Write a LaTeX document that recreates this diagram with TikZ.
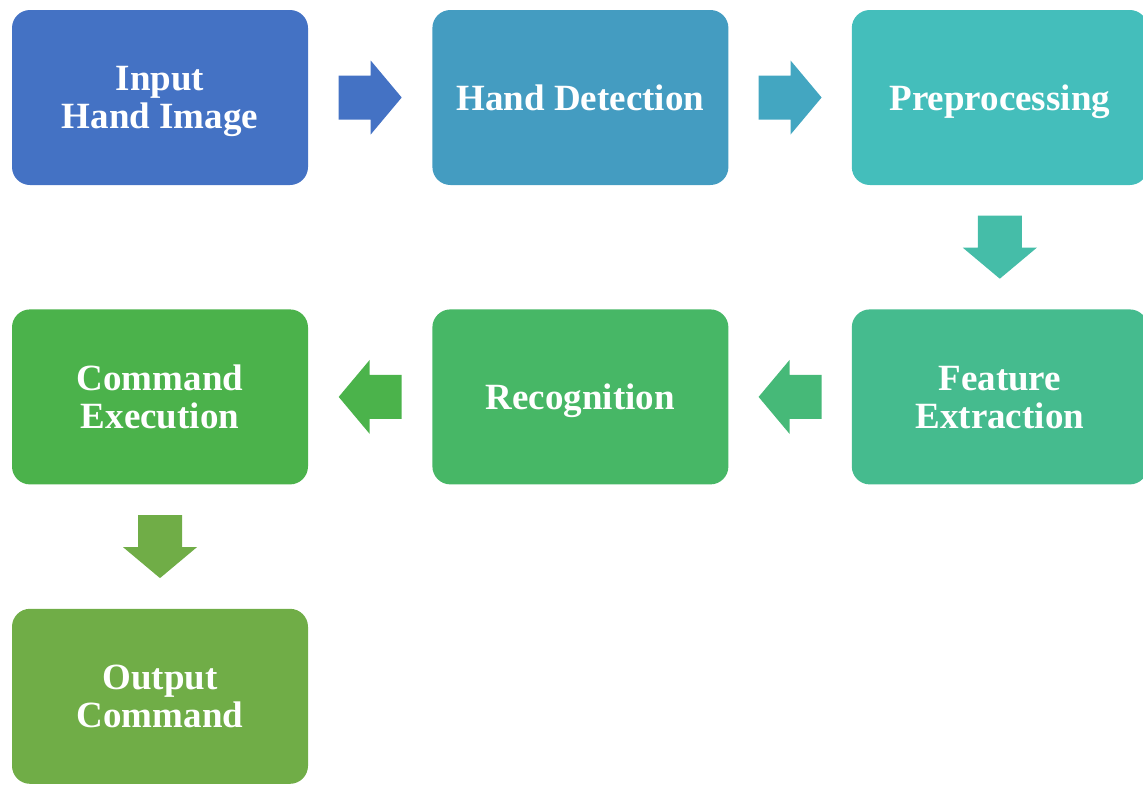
\documentclass[tikz,border=0pt]{standalone}
\usepackage{fontspec}
\setmainfont{Liberation Serif}
\usepackage{tikz}
\usetikzlibrary{calc,positioning}

\definecolor{boxA}{HTML}{4472C4}
\definecolor{boxB}{HTML}{449CC1}
\definecolor{boxC}{HTML}{44BEBB}
\definecolor{boxD}{HTML}{45BB8E}
\definecolor{boxE}{HTML}{47B766}
\definecolor{boxF}{HTML}{4BB24B}
\definecolor{boxG}{HTML}{70AD47}
\definecolor{arrA}{HTML}{4472C4}
\definecolor{arrB}{HTML}{43A6C1}
\definecolor{arrC}{HTML}{45BDA8}
\definecolor{arrD}{HTML}{46B978}
\definecolor{arrE}{HTML}{4BB34B}
\definecolor{arrF}{HTML}{70AD47}

\begin{document}
\begin{tikzpicture}[x=1pt, y=-1pt,
		stage/.style = {rectangle, rounded corners=18pt, inner sep=0pt,
				minimum width=296pt, minimum height=175pt, align=center,
				text depth=0pt,
				text=white, font=\fontsize{37}{38}\selectfont\bfseries},
		blkarrow/.pic = {\fill (-31.5,-22) -- (0.5,-22) -- (0.5,-37) -- (31.5,0)
				-- (0.5,37) -- (0.5,22) -- (-31.5,22) -- cycle;}
	]
	\useasboundingbox (0,0) rectangle (1143,785);
	% first row
	\node [stage, fill=boxA] (inp) at (160,97.5) {Input\\Hand Image};
	\node [stage, fill=boxB, right=124pt of inp] (det) {Hand Detection};
	\node [stage, fill=boxC, right=123pt of det] (pre) {Preprocessing};
	% second row
	\node [stage, fill=boxD, below=124pt of pre] (feat) {Feature\\Extraction};
	\node [stage, fill=boxE, left=123pt of feat] (rec) {Recognition};
	\node [stage, fill=boxF, left=124pt of rec] (cmd) {Command\\Execution};
	% last row
	\node [stage, fill=boxG, below=124pt of cmd] (out) {Output\\Command};

	% block arrows
	\pic [fill=arrA] (a1) at ($(inp.east)!0.5!(det.west)$) {blkarrow};
	\pic [fill=arrB] (a2) at ($(det.east)!0.5!(pre.west)$) {blkarrow};
	\pic [fill=arrC, rotate=-90] (a3) at ($(pre.south)!0.5!(feat.north)$) {blkarrow};
	\pic [fill=arrD, rotate=180] (a4) at ($(feat.west)!0.5!(rec.east)$) {blkarrow};
	\pic [fill=arrE, rotate=180] (a5) at ($(rec.west)!0.5!(cmd.east)$) {blkarrow};
	\pic [fill=arrF, rotate=-90] (a6) at ($(cmd.south)!0.5!(out.north)$) {blkarrow};
\end{tikzpicture}
\end{document}
